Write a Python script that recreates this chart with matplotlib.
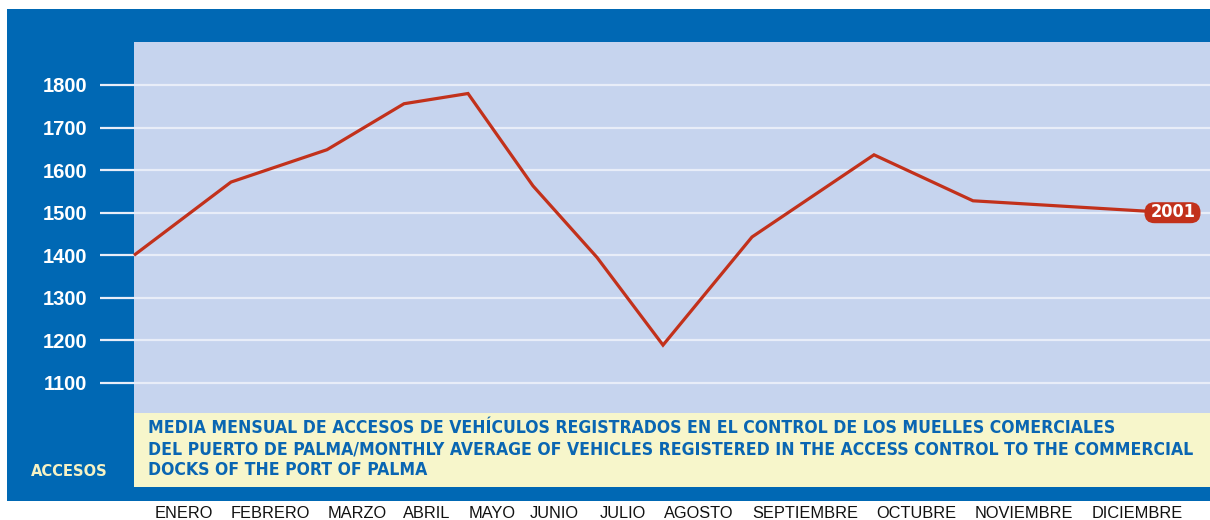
import matplotlib
matplotlib.use('Agg')
import matplotlib.pyplot as plt
from matplotlib import font_manager
from matplotlib.patches import Rectangle, FancyBboxPatch
from matplotlib.transforms import ScaledTranslation

# ---------------- data ----------------
months = ['ENERO', 'FEBRERO', 'MARZO', 'ABRIL', 'MAYO', 'JUNIO', 'JULIO',
          'AGOSTO', 'SEPTIEMBRE', 'OCTUBRE', 'NOVIEMBRE', 'DICIEMBRE']
values = [1400, 1572, 1648, 1756, 1780, 1563, 1395, 1189, 1443, 1636, 1528, 1500]
month_pos = [134, 231, 327, 404, 468, 533, 597, 663, 752, 874, 973, 1172]
label_centers = [184, 270, 357, 427, 492, 554, 623, 699, 805, 916, 1024, 1137]
yticks = [1100, 1200, 1300, 1400, 1500, 1600, 1700, 1800]
series_label = '2001'
y_title = 'ACCESOS'
title_lines = [
    'MEDIA MENSUAL DE ACCESOS DE VEHÍCULOS REGISTRADOS EN EL CONTROL DE LOS MUELLES COMERCIALES',
    'DEL PUERTO DE PALMA/MONTHLY AVERAGE OF VEHICLES REGISTERED IN THE ACCESS CONTROL TO THE COMMERCIAL',
    'DOCKS OF THE PORT OF PALMA',
]

# ---------------- style ----------------
BLUE = '#0068b4'
LIGHT = '#c6d4ee'
YELLOW = '#f7f6cb'
GRID = '#e8edf8'
RED = '#c2311b'
TITLE_C = '#0a66b2'
ACC_C = '#f6f2c4'

names = {f.name for f in font_manager.fontManager.ttflist}
NARROW = 'Liberation Sans Narrow' if 'Liberation Sans Narrow' in names else 'DejaVu Sans'
SANS = 'Liberation Sans' if 'Liberation Sans' in names else 'DejaVu Sans'
STRETCH = 'normal' if NARROW == 'Liberation Sans Narrow' else 'condensed'

W, H = 1210, 520
fig = plt.figure(figsize=(12.1, 5.2), dpi=100)
fig.patch.set_facecolor('white')

def fx(px):
    return px / W

def fy(py):
    return 1 - py / H

# outer blue frame
fig.patches.append(Rectangle((fx(7), fy(501)), (1210 - 7) / W, (501 - 9) / H,
                             transform=fig.transFigure, facecolor=BLUE,
                             edgecolor='none', zorder=-2))
# yellow title band
fig.patches.append(Rectangle((fx(134), fy(487)), (1210 - 134) / W, (487 - 413) / H,
                             transform=fig.transFigure, facecolor=YELLOW,
                             edgecolor='none', zorder=-1))

# plot axes (extends left to where gridlines start)
ax = fig.add_axes([fx(100), fy(413), (1210 - 100) / W, (413 - 42) / H])
ax.set_zorder(2)
ax.set_facecolor('none')
k = (383 - 85) / 700.0
ax.set_xlim(100, 1210)
ax.set_ylim(1100 - (413 - 383) / k, 1800 + (85 - 42) / k)
for s in ax.spines.values():
    s.set_visible(False)
ax.axvspan(134, 1210, color=LIGHT, zorder=0, lw=0)
for t in yticks:
    ax.axhline(t, color=GRID, lw=1.6, zorder=1)
ax.set_xticks([])
ax.set_yticks(yticks)
ax.set_yticklabels([str(t) for t in yticks], color='white', fontsize=14.5,
                   fontweight='bold', family=SANS)
ax.tick_params(axis='y', length=0, pad=9.4)

ax.plot(month_pos, values, color=RED, lw=2.3, zorder=3, solid_joinstyle='miter',
        solid_capstyle='butt')

# series label box at last point
trans = fig.dpi_scale_trans + ScaledTranslation(month_pos[-1], values[-1], ax.transData)
box = FancyBboxPatch((-0.275, -0.105), 0.56, 0.21,
                     boxstyle='round,pad=0,rounding_size=0.1',
                     transform=trans, facecolor=RED, edgecolor='none', zorder=4,
                     clip_on=False)
ax.add_patch(box)
lbl = ax.text(month_pos[-1] + 1, values[-1] + 2, series_label, ha='center', va='center',
              color='white', fontsize=13, fontweight='bold', family=NARROW,
              fontstretch=STRETCH, zorder=5)

# title text
renderer = fig.canvas.get_renderer()
tl = []
for i, (line, yy) in enumerate(zip(title_lines, [428, 449, 470])):
    t = fig.text(fx(148), fy(yy), line, ha='left', va='center', color=TITLE_C,
                 fontsize=14, fontweight='bold', family=NARROW, fontstretch=STRETCH,
                 zorder=3)
    tl.append(t)
w = tl[1].get_window_extent(renderer).width
size = 14 * (1190 - 148) / w * 1.005
for t in tl:
    t.set_fontsize(size)

acc = fig.text(fx(31), fy(471), y_title, ha='left', va='center', color=ACC_C,
               fontsize=14, fontweight='bold', family=NARROW, fontstretch=STRETCH,
               zorder=3)
wa = acc.get_window_extent(renderer).width
acc.set_fontsize(14 * (108 - 31) / wa)

# month labels below the frame
for m, c in zip(months, label_centers):
    fig.text(fx(c), fy(513), m, ha='center', va='center', color='#111111',
             fontsize=11.8, family=SANS)

fig.savefig('out.png', dpi=100, facecolor='white')
